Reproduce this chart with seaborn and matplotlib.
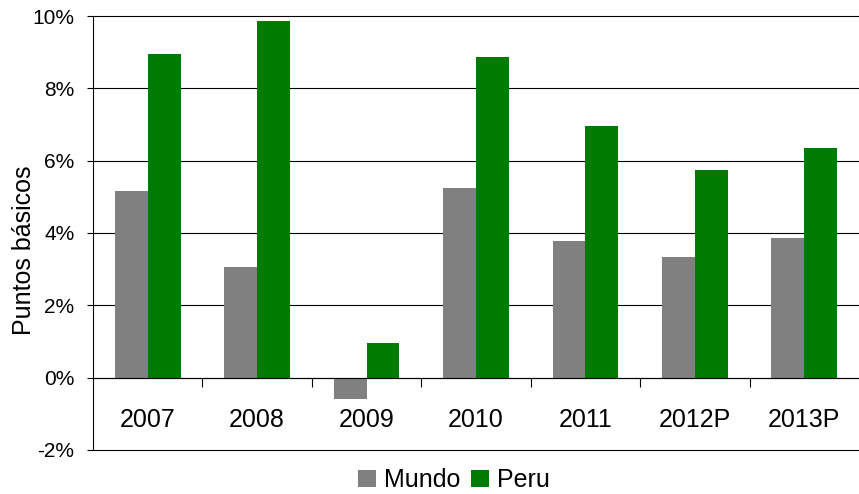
import seaborn as sns
import matplotlib.pyplot as plt
import pandas as pd
from matplotlib.ticker import FixedLocator, PercentFormatter

# data (percent)
years = ['2007', '2008', '2009', '2010', '2011', '2012P', '2013P']
mundo = [5.15, 3.05, -0.6, 5.25, 3.77, 3.33, 3.85]
peru = [8.95, 9.85, 0.95, 8.87, 6.96, 5.75, 6.35]
series = ['Mundo', 'Peru']
colors = ['#808080', '#007a00']

df = pd.DataFrame({
    'year': years * 2,
    'value': mundo + peru,
    'serie': ['Mundo'] * len(years) + ['Peru'] * len(years),
})

sns.set_style('white')
plt.rcParams['font.family'] = ['Liberation Sans', 'DejaVu Sans']
plt.rcParams['axes.unicode_minus'] = False
plt.rcParams['text.color'] = 'black'
plt.rcParams['axes.labelcolor'] = 'black'
plt.rcParams['xtick.color'] = 'black'
plt.rcParams['ytick.color'] = 'black'

fig = plt.figure(figsize=(8.59, 4.94), dpi=100)
ax = fig.add_axes([0.1083, 0.0891, 0.8917, 0.8785])

sns.barplot(data=df, x='year', y='value', hue='serie', hue_order=series,
            palette=colors, saturation=1, width=0.6, linewidth=0, ax=ax)

ax.set_xlim(-0.5, len(years) - 0.5)
ax.set_ylim(-2, 10)
ax.set_yticks(range(-2, 11, 2))
ax.yaxis.set_major_formatter(PercentFormatter(decimals=0))
ax.grid(axis='y', color='black', linewidth=0.8)
ax.set_axisbelow(True)
for line in ax.get_ygridlines():
    line.set_clip_on(False)

# x axis sits on zero, category labels hang below it
for s in ['top', 'right']:
    ax.spines[s].set_visible(False)
ax.spines['bottom'].set_position(('data', 0))
ax.spines['bottom'].set_color('black')
ax.spines['bottom'].set_linewidth(0.8)
ax.spines['left'].set_color('black')
ax.spines['left'].set_linewidth(0.8)

ax.xaxis.set_minor_locator(FixedLocator([i + 0.5 for i in range(len(years) - 1)]))
ax.tick_params(axis='x', which='major', length=0, pad=22, labelsize=18)
ax.tick_params(axis='x', which='minor', length=6.5, width=0.8, direction='out',
               color='black', bottom=True)
ax.tick_params(axis='y', length=4.5, width=0.8, direction='out', color='black',
               left=True, pad=9, labelsize=15)

ax.set_xlabel('')
ax.set_ylabel('Puntos básicos', fontsize=18)
ax.yaxis.set_label_coords(-0.074, 0.461)

sns.move_legend(ax, 'center', bbox_to_anchor=(0.5285, 0.028),
                bbox_transform=fig.transFigure, ncol=2, frameon=False, title=None,
                fontsize=18, handlelength=0.72, handleheight=0.72,
                handletextpad=0.3, columnspacing=0.45)

fig.savefig('out.png', dpi=100)
